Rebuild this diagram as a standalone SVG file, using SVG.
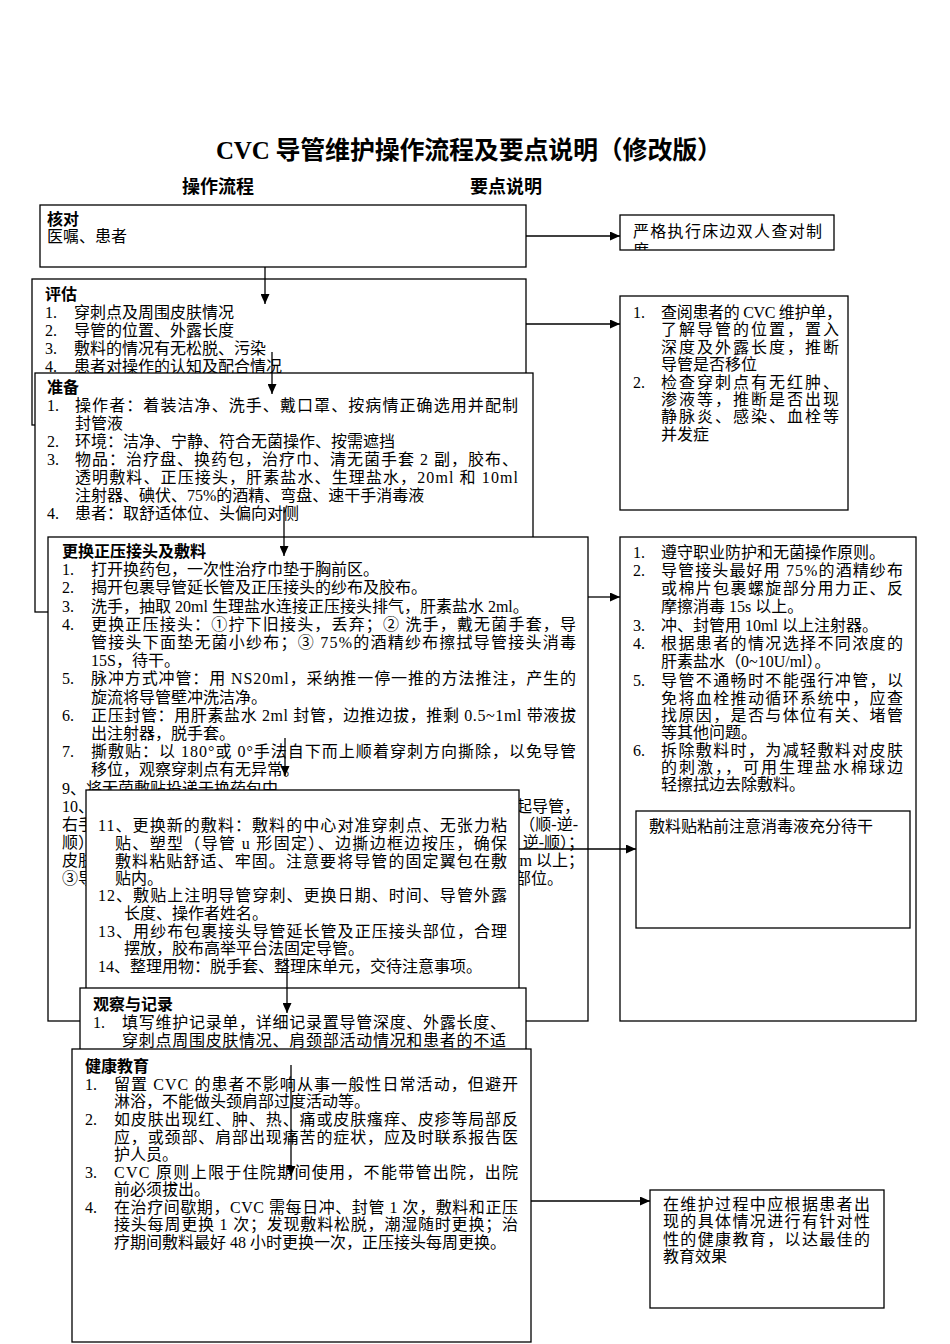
<svg xmlns="http://www.w3.org/2000/svg" width="950" height="1344" viewBox="0 0 950 1344">
<style>
.t{font-family:"Liberation Serif","Noto Sans CJK SC",serif;font-size:16px;fill:#000}
.h{font-family:"Liberation Sans","Noto Sans CJK SC",sans-serif;font-weight:bold;font-size:16px;fill:#000}
.box{fill:#fff;stroke:#000;stroke-width:1.3}
.c{stroke:#000;stroke-width:1.3;fill:none;marker-end:url(#ah)}
</style>
<defs>
<marker id="ah" markerUnits="userSpaceOnUse" markerWidth="11" markerHeight="9" refX="10" refY="4.5" orient="auto">
<path d="M0,0 L10,4.5 L0,9 z" fill="#000"/>
</marker>
<clipPath id="clipR1"><rect x="620" y="215" width="214" height="35"/></clipPath>
</defs>
<rect width="950" height="1344" fill="#fff"/>
<g id="title">
<text x="216" y="159" textLength="506" style="font-family:'Liberation Serif','Noto Sans CJK SC',serif;font-size:25px;font-weight:bold">CVC 导管维护操作流程及要点说明（修改版）</text>
<text x="182" y="193" style="font-family:'Liberation Sans','Noto Sans CJK SC',sans-serif;font-size:18px;font-weight:bold">操作流程</text>
<text x="470" y="193" style="font-family:'Liberation Sans','Noto Sans CJK SC',sans-serif;font-size:18px;font-weight:bold">要点说明</text>
</g>
<g id="n-check">
<rect class="box" x="40" y="205" width="486" height="62"/>
<text class="h" x="47" y="225">核对</text>
<text class="t" x="47" y="242">医嘱、患者</text>
</g>
<g id="n-note1">
<rect class="box" x="620" y="215" width="214" height="35"/>
<g clip-path="url(#clipR1)">
<text class="t" x="633" y="237" textLength="189">严格执行床边双人查对制</text>
<text class="t" x="633" y="256">度</text>
</g>
</g>
<g id="n-assess">
<rect class="box" x="32" y="279" width="494" height="146"/>
<text class="h" x="45" y="300">评估</text>
<text class="t" x="45" y="318">1.</text><text class="t" x="74" y="318">穿刺点及周围皮肤情况</text>
<text class="t" x="45" y="336">2.</text><text class="t" x="74" y="336">导管的位置、外露长度</text>
<text class="t" x="45" y="354">3.</text><text class="t" x="74" y="354">敷料的情况有无松脱、污染</text>
<text class="t" x="45" y="372">4.</text><text class="t" x="74" y="372">患者对操作的认知及配合情况</text>
</g>
<g id="n-note2">
<rect class="box" x="620" y="296" width="228" height="214"/>
<text class="t" x="633" y="318">1.</text><text class="t" x="661" y="318" textLength="181">查阅患者的 CVC 维护单，</text>
<text class="t" x="661" y="335" textLength="178">了解导管的位置，置入</text>
<text class="t" x="661" y="353" textLength="178">深度及外露长度，推断</text>
<text class="t" x="661" y="370">导管是否移位</text>
<text class="t" x="633" y="388">2.</text><text class="t" x="661" y="388" textLength="178">检查穿刺点有无红肿、</text>
<text class="t" x="661" y="405" textLength="178">渗液等，推断是否出现</text>
<text class="t" x="661" y="422" textLength="178">静脉炎、感染、血栓等</text>
<text class="t" x="661" y="440">并发症</text>
</g>
<g id="n-prepare">
<rect class="box" x="35" y="373" width="498" height="239"/>
<text class="h" x="47" y="393">准备</text>
<text class="t" x="47" y="411">1.</text><text class="t" x="75" y="411" textLength="443">操作者：着装洁净、洗手、戴口罩、按病情正确选用并配制</text>
<text class="t" x="75" y="429">封管液</text>
<text class="t" x="47" y="447">2.</text><text class="t" x="75" y="447">环境：洁净、宁静、符合无菌操作、按需遮挡</text>
<text class="t" x="47" y="465">3.</text><text class="t" x="75" y="465" textLength="443">物品：治疗盘、换药包，治疗巾、清无菌手套 2 副，胶布、</text>
<text class="t" x="75" y="483" textLength="443">透明敷料、正压接头，肝素盐水、生理盐水，20ml 和 10ml</text>
<text class="t" x="75" y="501">注射器、碘伏、75%的酒精、弯盘、速干手消毒液</text>
<text class="t" x="47" y="519">4.</text><text class="t" x="75" y="519">患者：取舒适体位、头偏向对侧</text>
</g>
<g id="n-replace">
<rect class="box" x="48" y="537" width="540" height="484"/>
<text class="h" x="62" y="557">更换正压接头及敷料</text>
<text class="t" x="62" y="575">1.</text><text class="t" x="91" y="575">打开换药包，一次性治疗巾垫于胸前区。</text>
<text class="t" x="62" y="593">2.</text><text class="t" x="91" y="593">揭开包裹导管延长管及正压接头的纱布及胶布。</text>
<text class="t" x="62" y="612">3.</text><text class="t" x="91" y="612">洗手，抽取 20ml 生理盐水连接正压接头排气，肝素盐水 2ml。</text>
<text class="t" x="62" y="630">4.</text><text class="t" x="91" y="630" textLength="485">更换正压接头：①拧下旧接头，丢弃；② 洗手，戴无菌手套，导</text>
<text class="t" x="91" y="648" textLength="485">管接头下面垫无菌小纱布；③ 75%的酒精纱布擦拭导管接头消毒</text>
<text class="t" x="91" y="666">15S，待干。</text>
<text class="t" x="62" y="684">5.</text><text class="t" x="91" y="684" textLength="485">脉冲方式冲管：用 NS20ml，采纳推一停一推的方法推注，产生的</text>
<text class="t" x="91" y="703">旋流将导管壁冲洗洁净。</text>
<text class="t" x="62" y="721">6.</text><text class="t" x="91" y="721" textLength="485">正压封管：用肝素盐水 2ml 封管，边推边拔，推剩 0.5~1ml 带液拔</text>
<text class="t" x="91" y="739">出注射器，脱手套。</text>
<text class="t" x="62" y="757">7.</text><text class="t" x="91" y="757" textLength="485">撕敷贴：以 180°或 0°手法自下而上顺着穿刺方向撕除，以免导管</text>
<text class="t" x="91" y="775">移位，观察穿刺点有无异常。</text>
<text class="t" x="62" y="794">9、将无菌敷贴投递于换药包中</text>
<text class="t" x="62" y="812">10、</text><text class="t" x="580" y="812" text-anchor="end">提起导管，</text>
<text class="t" x="62" y="830">右手</text><text class="t" x="578" y="830" text-anchor="end">（顺-逆-</text>
<text class="t" x="62" y="848">顺）</text><text class="t" x="584" y="848" text-anchor="end">逆-顺）；</text>
<text class="t" x="62" y="866">皮肤</text><text class="t" x="584" y="866" text-anchor="end">cm 以上；</text>
<text class="t" x="62" y="884">③导</text><text class="t" x="515" y="884">部位。</text>
</g>
<g id="n-dressing">
<rect class="box" x="86" y="790" width="433" height="200"/>
<text class="t" x="98" y="831" textLength="409">11、更换新的敷料：敷料的中心对准穿刺点、无张力粘</text>
<text class="t" x="115" y="849" textLength="392">贴、塑型（导管 u 形固定）、边撕边框边按压，确保</text>
<text class="t" x="115" y="867" textLength="392">敷料粘贴舒适、牢固。注意要将导管的固定翼包在敷</text>
<text class="t" x="115" y="884">贴内。</text>
<text class="t" x="98" y="901" textLength="409">12、敷贴上注明导管穿刺、更换日期、时间、导管外露</text>
<text class="t" x="124" y="919">长度、操作者姓名。</text>
<text class="t" x="98" y="937" textLength="409">13、用纱布包裹接头导管延长管及正压接头部位，合理</text>
<text class="t" x="124" y="954">摆放，胶布高举平台法固定导管。</text>
<text class="t" x="98" y="972">14、整理用物：脱手套、整理床单元，交待注意事项。</text>
</g>
<g id="n-observe">
<rect class="box" x="80" y="988" width="446" height="80"/>
<text class="h" x="93" y="1010">观察与记录</text>
<text class="t" x="93" y="1028">1.</text><text class="t" x="122" y="1028" textLength="384">填写维护记录单，详细记录置导管深度、外露长度、</text>
<text class="t" x="122" y="1046" textLength="384">穿刺点周围皮肤情况、肩颈部活动情况和患者的不适</text>
</g>
<g id="n-educate">
<rect class="box" x="72" y="1049" width="459" height="293"/>
<text class="h" x="85" y="1072">健康教育</text>
<text class="t" x="85" y="1090">1.</text><text class="t" x="114" y="1090" textLength="404">留置 CVC 的患者不影响从事一般性日常活动，但避开</text>
<text class="t" x="114" y="1107">淋浴，不能做头颈肩部过度活动等。</text>
<text class="t" x="85" y="1125">2.</text><text class="t" x="114" y="1125" textLength="404">如皮肤出现红、肿、热、痛或皮肤瘙痒、皮疹等局部反</text>
<text class="t" x="114" y="1143" textLength="404">应，或颈部、肩部出现痛苦的症状，应及时联系报告医</text>
<text class="t" x="114" y="1160">护人员。</text>
<text class="t" x="85" y="1178">3.</text><text class="t" x="114" y="1178" textLength="404">CVC 原则上限于住院期间使用，不能带管出院，出院</text>
<text class="t" x="114" y="1195">前必须拔出。</text>
<text class="t" x="85" y="1213">4.</text><text class="t" x="114" y="1213" textLength="404">在治疗间歇期，CVC 需每日冲、封管 1 次，敷料和正压</text>
<text class="t" x="114" y="1230" textLength="404">接头每周更换 1 次；发现敷料松脱，潮湿随时更换；治</text>
<text class="t" x="114" y="1248">疗期间敷料最好 48 小时更换一次，正压接头每周更换。</text>
</g>
<g id="n-note3">
<rect class="box" x="620" y="537" width="296" height="484"/>
<text class="t" x="633" y="558">1.</text><text class="t" x="661" y="558">遵守职业防护和无菌操作原则。</text>
<text class="t" x="633" y="576">2.</text><text class="t" x="661" y="576" textLength="242">导管接头最好用 75%的酒精纱布</text>
<text class="t" x="661" y="594" textLength="242">或棉片包裹螺旋部分用力正、反</text>
<text class="t" x="661" y="612">摩擦消毒 15s 以上。</text>
<text class="t" x="633" y="631">3.</text><text class="t" x="661" y="631">冲、封管用 10ml 以上注射器。</text>
<text class="t" x="633" y="649">4.</text><text class="t" x="661" y="649" textLength="242">根据患者的情况选择不同浓度的</text>
<text class="t" x="661" y="667">肝素盐水（0~10U/ml）。</text>
<text class="t" x="633" y="686">5.</text><text class="t" x="661" y="686" textLength="242">导管不通畅时不能强行冲管，以</text>
<text class="t" x="661" y="704" textLength="242">免将血栓推动循环系统中，应查</text>
<text class="t" x="661" y="721" textLength="242">找原因，是否与体位有关、堵管</text>
<text class="t" x="661" y="738">等其他问题。</text>
<text class="t" x="633" y="756">6.</text><text class="t" x="661" y="756" textLength="242">拆除敷料时，为减轻敷料对皮肤</text>
<text class="t" x="661" y="773" textLength="242">的刺激，，可用生理盐水棉球边</text>
<text class="t" x="661" y="790">轻擦拭边去除敷料。</text>
</g>
<g id="n-note4">
<rect class="box" x="636" y="811" width="274" height="117"/>
<text class="t" x="649" y="832">敷料贴粘前注意消毒液充分待干</text>
</g>
<g id="n-note5">
<rect class="box" x="650" y="1190" width="234" height="118"/>
<text class="t" x="663" y="1210" textLength="207">在维护过程中应根据患者出</text>
<text class="t" x="663" y="1227" textLength="207">现的具体情况进行有针对性</text>
<text class="t" x="663" y="1245" textLength="207">性的健康教育，以达最佳的</text>
<text class="t" x="663" y="1262">教育效果</text>
</g>
<g id="connectors">
<line class="c" x1="526" y1="236" x2="620" y2="236"/>
<line class="c" x1="265" y1="267" x2="265" y2="304"/>
<line class="c" x1="526" y1="324" x2="620" y2="324"/>
<line class="c" x1="272" y1="352" x2="272" y2="394"/>
<line class="c" x1="284" y1="507" x2="284" y2="556"/>
<line class="c" x1="588" y1="597" x2="620" y2="597"/>
<line class="c" x1="285" y1="738" x2="285" y2="776"/>
<line class="c" x1="519" y1="849" x2="636" y2="849"/>
<line class="c" x1="287" y1="958" x2="287" y2="1013"/>
<line class="c" x1="291" y1="1065" x2="291" y2="1176"/>
<line class="c" x1="531" y1="1201" x2="650" y2="1201"/>
</g>
</svg>
